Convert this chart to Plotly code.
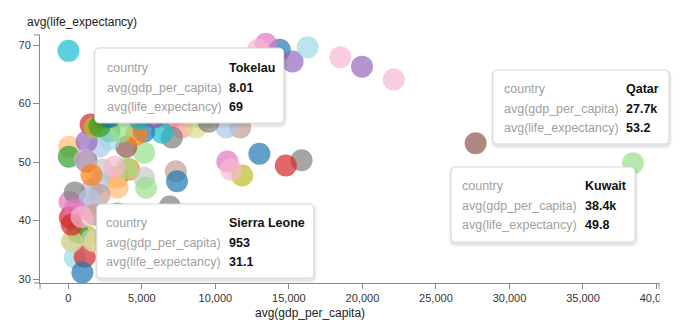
import plotly.graph_objects as go

# ---------------- data ----------------
# avg(gdp_per_capita) and avg(life_expectancy) per country
gdp = [
    14380, 2120, 4140, 50, 30, 5150, 1510, 7720, 15250, 300,
    1240, 11690, 13440, 12900, 15860, 5150, 11820, 8670, 8.01, 16270,
    12990, 10750, 3340, 3130, 2790, 3940, 14790, 6850, 19970, 1580,
    3940, 7310, 10810, 18490, 7040, 2320, 1240, 9200, 6370, 430,
    5150, 2120, 4620, 3340, 630, 5290, 1110, 1110, 1240, 1110,
    27700, 2120, 80, 22130, 430, 1580, 1780, 230, 4810, 2790,
    7390, 1440, 1570, 4140, 2120, 3610, 100, 2800, 5830, 2700,
    4000, 1780, 430, 11080, 6900, 4300, 3300, 1780, 3900, 5600,
    953, 3000, 3500, 8000, 3340, 38400, 230, 10000, 3800, 11000,
    6500, 3200, 9500, 900, 9540, 5500, 7800, 4700, 8800, 11500,
    2790, 5000, 7000, 6000, 9000, 4500, 5500, 4800, 7500, 9000,
    12000, 5200, 3600, 3130, 2900, 8500, 10500, 6200, 3000, 7200,
]
life = [
    69.2, 52.6, 48.7, 52.6, 50.9, 51.6, 56.4, 55.9, 67.2, 36.4,
    50.1, 55.9, 70.2, 69.2, 50.3, 47.3, 47.7, 55.9, 69.0, 69.6,
    51.4, 55.9, 47.4, 47.3, 55.2, 49.0, 49.4, 57.3, 66.3, 45.3,
    52.6, 48.4, 50.1, 67.9, 54.2, 48.7, 37.3, 57.3, 55.0, 33.7,
    55.2, 46.5, 54.7, 45.6, 38.0, 45.6, 33.8, 41.9, 53.5, 50.4,
    53.2, 44.4, 43.2, 64.1, 44.8, 36.7, 55.9, 36.4, 57.3, 53.9,
    46.7, 43.6, 47.8, 36.7, 56.1, 55.2, 40.5, 33.5, 57.6, 36.5,
    33.0, 41.0, 41.9, 48.7, 42.4, 34.5, 37.0, 36.4, 40.0, 36.5,
    31.1, 38.0, 35.0, 63.0, 41.2, 49.8, 39.3, 61.0, 64.5, 62.5,
    65.0, 59.0, 66.0, 40.6, 56.9, 60.5, 59.0, 63.5, 60.0, 59.5,
    57.7, 62.0, 60.0, 39.5, 61.5, 37.5, 34.0, 40.0, 36.0, 38.0,
    35.0, 38.5, 39.0, 49.2, 35.5, 40.0, 39.0, 35.5, 34.0, 33.5,
]

# hovered countries shown as tooltips
tip_country = ["Tokelau", "Qatar", "Kuwait", "Sierra Leone"]
tip_gdp = [8.01, 27700, 38400, 953]
tip_life = [69, 53.2, 49.8, 31.1]

x_ticks = [0, 5000, 10000, 15000, 20000, 25000, 30000, 35000, 40000]
y_ticks = [30, 40, 50, 60, 70]

# ---------------- style ----------------
palette = ["#1f77b4", "#aec7e8", "#ff7f0e", "#ffbb78", "#2ca02c", "#98df8a",
           "#d62728", "#ff9896", "#9467bd", "#c5b0d5", "#8c564b", "#c49c94",
           "#e377c2", "#f7b6d2", "#7f7f7f", "#c7c7c7", "#bcbd22", "#dbdb8d",
           "#17becf", "#9edae5"]
colors = [palette[i % 20] for i in range(len(gdp))]

W, H = 685, 335
L, R, T, B = 40, 662, 35, 283
FONT = "Liberation Sans, Arial, Helvetica, sans-serif"
AX = "#888888"


def px(x):
    return (x - L) / (R - L)


def py(y):
    return (B - y) / (B - T)


def rrect(x0, y0, x1, y1, r):
    pts = [
        ("M", x0 + r, y0), ("L", x1 - r, y0), ("Q", x1, y0, x1, y0 + r),
        ("L", x1, y1 - r), ("Q", x1, y1, x1 - r, y1), ("L", x0 + r, y1),
        ("Q", x0, y1, x0, y1 - r), ("L", x0, y0 + r), ("Q", x0, y0, x0 + r, y0),
    ]
    s = ""
    for p in pts:
        cmd = p[0]
        coords = p[1:]
        parts = []
        for i in range(0, len(coords), 2):
            parts.append(f"{px(coords[i]):.5f},{py(coords[i + 1]):.5f}")
        s += cmd + " ".join(parts) + " "
    return s + "Z"


def fmt(v):
    if v >= 1000:
        return f"{v / 1000:.3g}k"
    return f"{v:.3g}"


fig = go.Figure(go.Scatter(
    x=gdp, y=life, mode="markers", cliponaxis=False,
    marker=dict(size=22, color=colors, opacity=0.7, line=dict(width=0)),
    hoverinfo="skip",
))

shapes = []
annotations = []

# tooltip boxes: (left, top, right, bottom, label_x, value_x, first_row_y)
boxes = [
    (95, 48, 285, 123, 105, 228, 68),
    (495, 70, 672, 144, 504, 627, 89),
    (453, 167, 638, 242, 462, 586, 186),
    (97, 204, 315, 278, 104, 228, 223),
]
for (x0, y0, x1, y1, lx, vx, ry), name, g, lf in zip(boxes, tip_country, tip_gdp, tip_life):
    for d, a in ((3, 0.04), (1.5, 0.06)):
        shapes.append(dict(type="path", xref="paper", yref="paper",
                           path=rrect(x0 - d + 0.5, y0 - d + 2, x1 + d + 0.5, y1 + d + 2, 5 + d),
                           fillcolor=f"rgba(0,0,0,{a})", line=dict(width=0), layer="above"))
    shapes.append(dict(type="path", xref="paper", yref="paper",
                       path=rrect(x0, y0, x1, y1, 5),
                       fillcolor="white", line=dict(color="#d9d9d9", width=1), layer="above"))
    labels = ["country", "avg(gdp_per_capita)", "avg(life_expectancy)"]
    values = [name, fmt(g), fmt(lf)]
    for k in range(3):
        yy = ry + k * 19.5
        annotations.append(dict(x=px(lx), y=py(yy), xref="paper", yref="paper",
                                text=labels[k], showarrow=False, xanchor="left", yanchor="middle",
                                font=dict(family=FONT, size=12.5, color="#a0a0a0")))
        annotations.append(dict(x=px(vx), y=py(yy), xref="paper", yref="paper",
                                text=f"<b>{values[k]}</b>", showarrow=False, xanchor="left",
                                yanchor="middle", font=dict(family=FONT, size=12.5, color="#111111")))

# outer ticks at the ends of the axis domains
shapes += [
    dict(type="line", xref="paper", yref="paper", x0=px(L), x1=px(L), y0=py(B), y1=py(B + 6),
         line=dict(color=AX, width=1)),
    dict(type="line", xref="paper", yref="paper", x0=px(R), x1=px(R), y0=py(B), y1=py(B + 6),
         line=dict(color=AX, width=1)),
    dict(type="line", xref="paper", yref="paper", x0=px(L - 6), x1=px(L), y0=py(T), y1=py(T),
         line=dict(color=AX, width=1)),
    dict(type="line", xref="paper", yref="paper", x0=px(L - 6), x1=px(L), y0=py(B), y1=py(B),
         line=dict(color=AX, width=1)),
    # chart canvas edge clips the last x label
    dict(type="rect", xref="paper", yref="paper", x0=px(R + 0.5), x1=px(W + 5), y0=py(287), y1=py(308),
         fillcolor="white", line=dict(width=0), layer="above"),
]

# axis titles
annotations.append(dict(x=px(311), y=py(313), xref="paper", yref="paper",
                        text="avg(gdp_per_capita)", showarrow=False, xanchor="center",
                        yanchor="middle", font=dict(family=FONT, size=12, color="#222222")))
annotations.append(dict(x=px(25), y=py(22), xref="paper", yref="paper",
                        text="avg(life_expectancy)", showarrow=False, xanchor="left",
                        yanchor="middle", font=dict(family=FONT, size=12, color="#222222")))

fig.update_layout(
    width=W, height=H,
    margin=dict(l=L, r=W - R, t=T, b=H - B, pad=0),
    paper_bgcolor="white", plot_bgcolor="white",
    showlegend=False,
    shapes=shapes, annotations=annotations,
    xaxis=dict(range=[-1930, 40170], tickvals=x_ticks,
               ticktext=[f"{v:,}" for v in x_ticks],
               showgrid=False, zeroline=False, showline=True, linecolor=AX, linewidth=1,
               ticks="outside", ticklen=5, tickcolor=AX,
               tickfont=dict(family=FONT, size=11, color="#333333")),
    yaxis=dict(range=[29.32, 71.71], tickvals=y_ticks,
               showgrid=False, zeroline=False, showline=True, linecolor=AX, linewidth=1,
               ticks="outside", ticklen=6, tickcolor=AX,
               tickfont=dict(family=FONT, size=11, color="#333333")),
)

fig.write_html("out.html")
